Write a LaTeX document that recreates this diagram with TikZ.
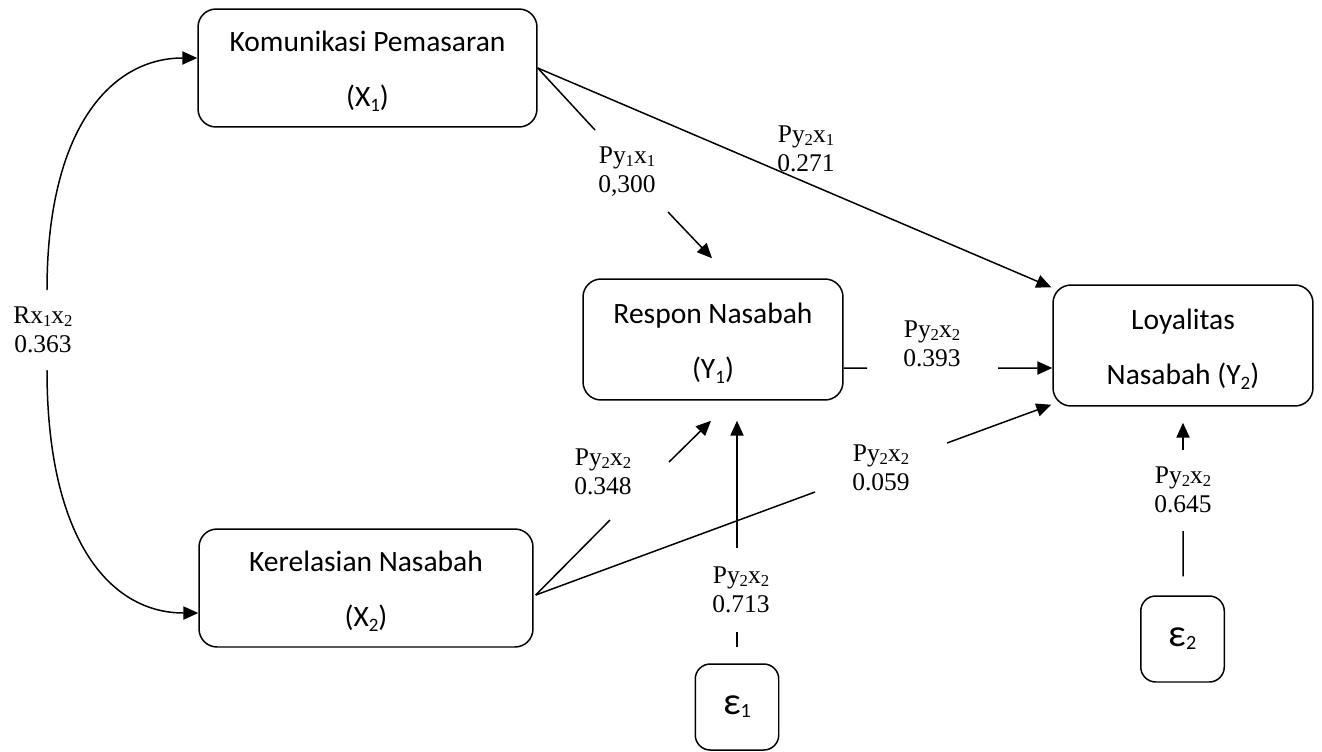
\documentclass[tikz,border=0pt]{standalone}
\usepackage{fontspec}
\setmainfont{Liberation Serif}
\newfontfamily\carl{Carlito}
\usetikzlibrary{arrows.meta,calc}
\newcommand\csub[1]{\raisebox{-0.17em}{\fontsize{10.8}{10.8}\selectfont #1}}
\newcommand\tsub[1]{\raisebox{-0.1em}{\fontsize{9.5}{9.5}\selectfont #1}}
\newcommand\esub[1]{\raisebox{-0.08em}{\fontsize{11.5}{11.5}\selectfont #1}}
\newcommand\topstrut{\rule{0pt}{20pt}}
\newcommand\botstrut{\rule[-7.2pt]{0pt}{7.2pt}}
\begin{document}
\begin{tikzpicture}[x=0.02cm,y=-0.02cm,
  vbox/.style={draw, line width=0.85pt, rounded corners=0.36cm, align=center, inner sep=0pt,
    font=\carl\fontsize{16.8}{31.2}\selectfont},
  ebox/.style={draw, line width=0.85pt, rounded corners=0.3cm, inner sep=0pt,
    minimum width=1.67cm, minimum height=1.72cm, font=\carl\fontsize{22}{25}\selectfont},
  lab/.style={align=center, inner sep=0pt, font=\fontsize{14.5}{16.4}\selectfont},
  conn/.style={line width=0.85pt},
  arr/.style={conn, -{Triangle[length=8.5pt,width=7.5pt]}}]
\useasboundingbox (0,0) rectangle (1322,751);

% boxes
\node[vbox, minimum width=6.78cm, minimum height=2.36cm] (x1) at (367.5,68)
  {\topstrut Komunikasi Pemasaran\\(X\csub{1})\botstrut};
\node[vbox, minimum width=6.68cm, minimum height=2.36cm] (x2) at (366,588)
  {\topstrut Kerelasian Nasabah\\(X\csub{2})\botstrut};
\node[vbox, minimum width=5.2cm, minimum height=2.42cm] (y1) at (713,339.5)
  {\topstrut Respon Nasabah\\(Y\csub{1})\botstrut};
\node[vbox, minimum width=5.2cm, minimum height=2.42cm] (y2) at (1183,345.5)
  {\topstrut Loyalitas\\Nasabah (Y\csub{2})\botstrut};
\node[ebox] (e1) at (737,707) {ε\esub{1}};
\node[ebox] (e2) at (1182.5,639) {ε\esub{2}};

% labels
\node[lab] (l1) at (627,172) {Py\tsub{1}x\tsub{1}\\0,300};
\node[lab] (l2) at (806,149) {Py\tsub{2}x\tsub{1}\\0.271};
\node[lab] (l3) at (932,344) {Py\tsub{2}x\tsub{2}\\0.393};
\node[lab] (l4) at (603,472) {Py\tsub{2}x\tsub{2}\\0.348};
\node[lab] (l5) at (881,468) {Py\tsub{2}x\tsub{2}\\0.059};
\node[lab] (l6) at (741,590) {Py\tsub{2}x\tsub{2}\\0.713};
\node[lab] (l7) at (1183,490) {Py\tsub{2}x\tsub{2}\\0.645};
\node[lab] (l8) at (43,330) {Rx\tsub{1}x\tsub{2}\\0.363};

% anchor coordinates
\coordinate (x2o) at ($(x2.east)+(2,7)$);
\coordinate (y1o) at ($(y1.east)+(0,28.5)$);
\coordinate (t1) at ($(y1.north)+(-1,-20)$);
\coordinate (t2) at ($(y2.north west)+(-1,3)$);
\coordinate (t3) at ($(y2.west)+(0,22.5)$);
\coordinate (t4) at ($(y1.south)+(-2,20)$);
\coordinate (t5) at ($(y2.south west)+(-1,-2)$);
\coordinate (t6) at ($(y1.south)+(24,20)$);
\coordinate (t7) at ($(y2.south)+(0,16)$);
\coordinate (c1) at ($(x1.west)+(0,-10)$);
\coordinate (c2) at ($(x2.west)+(0,25)$);
\coordinate (e1o) at ($(e1.north)+(0,-16)$);
\coordinate (e2o) at ($(e2.north)+(0.5,-19)$);
% gap ends
\coordinate (g1a) at (595,130);  \coordinate (g1b) at (668,212);
\coordinate (g3a) at (867,368);  \coordinate (g3b) at (998,368);
\coordinate (g4a) at (610,520);  \coordinate (g4b) at (669,462);
\coordinate (g5a) at (815,492);  \coordinate (g5b) at (947,443);
\coordinate (g6a) at (737,632);  \coordinate (g6b) at (737,548);
\coordinate (g7a) at (1183,531); \coordinate (g7b) at (1183,450);
\coordinate (g8a) at (47,290);   \coordinate (g8b) at (47,370);

% connectors
\draw[conn] (x1.east) -- (g1a);
\draw[arr] (g1b) -- (t1);
\draw[arr] (x1.east) -- (t2);
\draw[conn] (y1o) -- (g3a);
\draw[arr] (g3b) -- (t3);
\draw[conn] (x2o) -- (g4a);
\draw[arr] (g4b) -- (t4);
\draw[conn] (x2o) -- (g5a);
\draw[arr] (g5b) -- (t5);
\draw[conn] (e1o) -- (g6a);
\draw[arr] (g6b) -- (t6);
\draw[conn] (e2o) -- (g7a);
\draw[arr] (g7b) -- (t7);
\draw[arr] (g8a) .. controls (47,130) and (110,58) .. (c1);
\draw[arr] (g8b) .. controls (47,540) and (110,613) .. (c2);
\end{tikzpicture}
\end{document}
